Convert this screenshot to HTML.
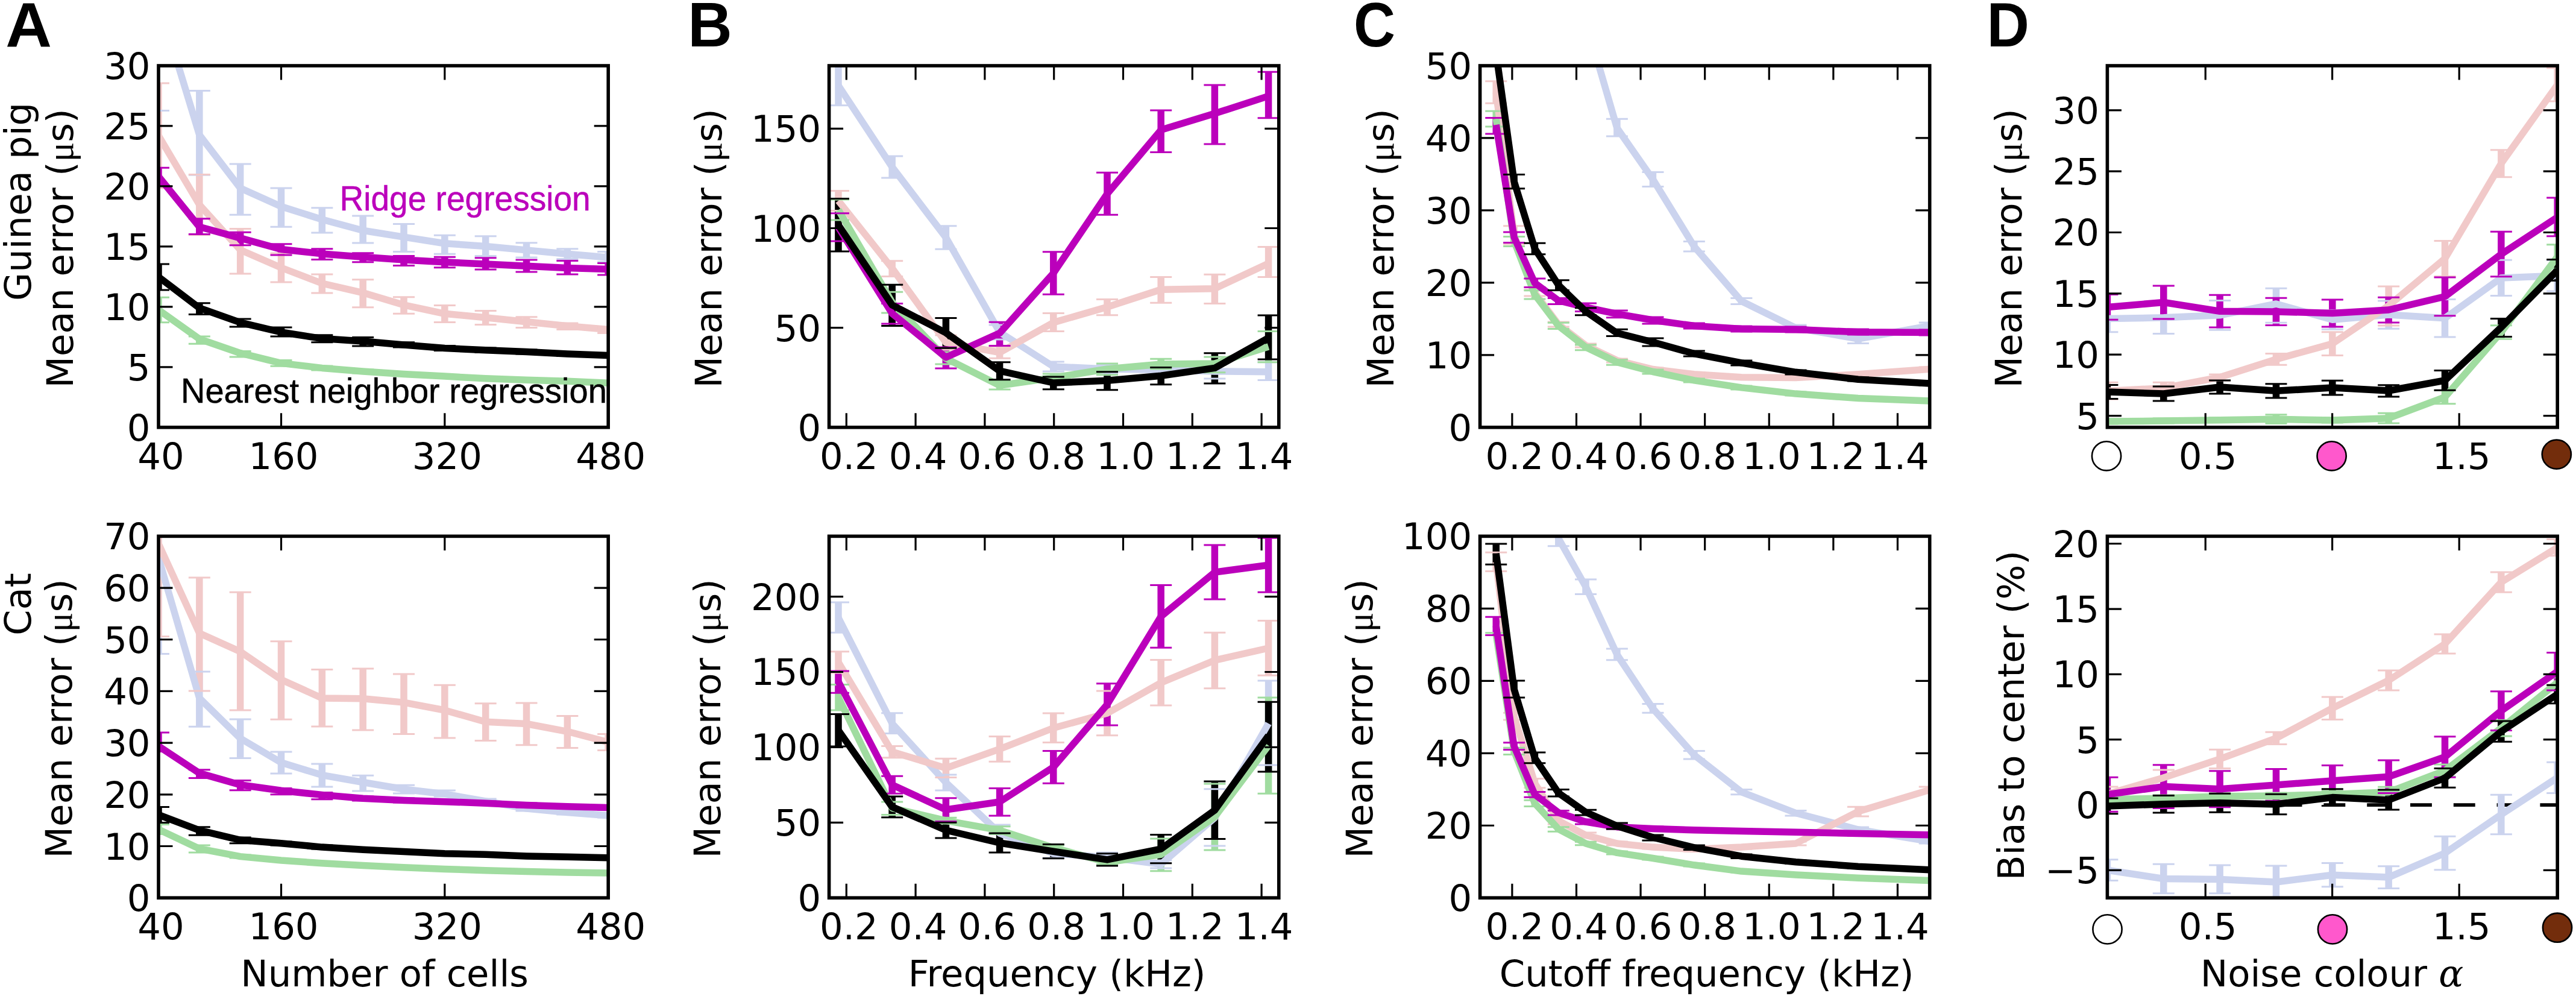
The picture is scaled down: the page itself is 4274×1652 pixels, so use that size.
<!DOCTYPE html><html><head><meta charset="utf-8"><title>Figure</title><style>html,body{margin:0;padding:0;background:#fff;}svg{display:block;}</style></head><body><svg width="4274" height="1652" viewBox="0 0 4274 1652">
<rect width="4274" height="1652" fill="#fff"/>
<clipPath id="cp00"><rect x="263" y="109" width="746.2" height="599.8"/></clipPath>
<clipPath id="cp01"><rect x="1375.6" y="109" width="746.2" height="599.8"/></clipPath>
<clipPath id="cp02"><rect x="2455.6" y="109" width="746.1" height="599.8"/></clipPath>
<clipPath id="cp03"><rect x="3496.4" y="109" width="746.8" height="599.8"/></clipPath>
<clipPath id="cp10"><rect x="263" y="889.4" width="746.2" height="599.8"/></clipPath>
<clipPath id="cp11"><rect x="1375.6" y="889.4" width="746.2" height="599.8"/></clipPath>
<clipPath id="cp12"><rect x="2455.6" y="889.4" width="746.1" height="599.8"/></clipPath>
<clipPath id="cp13"><rect x="3496.4" y="889.4" width="746.8" height="599.8"/></clipPath>
<g clip-path="url(#cp00)">
<path d="M330.84 150.4V290.2M398.67 271.9V356.3M466.51 312V376.3M534.35 344.8V385.9M602.18 358.1V403M670.02 371.6V417.5M737.85 390.2V421.3M805.69 391.8V424.6M873.53 402.7V427.1M941.36 412.7V429.4M1009.2 417.5V434.2" stroke="#cbd3ee" stroke-width="11.5" fill="none"/>
<path d="M263 137.9V312M330.84 289.5V389.7M398.67 379.5V454M466.51 420V468M534.35 455V486M602.18 463.7V509.7M670.02 492.7V520.3M737.85 506.5V534.4M805.69 515.5V538.6M873.53 525.7V543.4M941.36 536V546.6M1009.2 542.8V552.4" stroke="#f1c9c9" stroke-width="11.5" fill="none"/>
<path d="M263 493.2V534.8M330.84 558V570.3M398.67 582.5V592.1M466.51 597.6V607.2M534.35 607V614M602.18 613V619M670.02 618V623M737.85 622V626.5M805.69 626V630M873.53 628.5V632M941.36 630.5V634M1009.2 633.5V637" stroke="#a0dca0" stroke-width="11.5" fill="none"/>
<path d="M263 278.3V307.1M330.84 362.8V388.5M398.67 385.3V406.8M466.51 404.8V423.1M534.35 412.8V430.5M602.18 419.7V434.8M670.02 424.6V440.6M737.85 426.2V443.8M805.69 427.8V447M873.53 431V450.9M941.36 432.6V455.1M1009.2 436.4V456" stroke="#bb00bb" stroke-width="11.5" fill="none"/>
<path d="M263 438V481M330.84 502.8V521.4M398.67 529.1V542M466.51 543V558M534.35 555.8V567.7M602.18 559.5V573.9M670.02 567.7V576M737.85 573.5V581.5M805.69 577V584.5M873.53 580V587M941.36 583.5V590.5M1009.2 586.5V592.5" stroke="#000000" stroke-width="11.5" fill="none"/>
<polyline points="263,1 330.84,223.7 398.67,312 466.51,342.5 534.35,364 602.18,382.2 670.02,393.1 737.85,403.7 805.69,408.5 873.53,414.9 941.36,421.3 1009.2,427.1" stroke="#cbd3ee" stroke-width="11.5" fill="none" stroke-linejoin="round" stroke-linecap="butt"/>
<path d="M245 183.5h36M312.84 150.4h36M312.84 290.2h36M380.67 271.9h36M380.67 356.3h36M448.51 312h36M448.51 376.3h36M516.35 344.8h36M516.35 385.9h36M584.18 358.1h36M584.18 403h36M652.02 371.6h36M652.02 417.5h36M719.85 390.2h36M719.85 421.3h36M787.69 391.8h36M787.69 424.6h36M855.53 402.7h36M855.53 427.1h36M923.36 412.7h36M923.36 429.4h36M991.2 417.5h36M991.2 434.2h36" stroke="#cbd3ee" stroke-width="3.0" fill="none"/>
<polyline points="263,225 330.84,339.6 398.67,414.5 466.51,444 534.35,470 602.18,485.6 670.02,505.8 737.85,520.3 805.69,526.7 873.53,533.8 941.36,540.8 1009.2,546.6" stroke="#f1c9c9" stroke-width="11.5" fill="none" stroke-linejoin="round" stroke-linecap="butt"/>
<path d="M245 137.9h36M245 312h36M312.84 289.5h36M312.84 389.7h36M380.67 379.5h36M380.67 454h36M448.51 420h36M448.51 468h36M516.35 455h36M516.35 486h36M584.18 463.7h36M584.18 509.7h36M652.02 492.7h36M652.02 520.3h36M719.85 506.5h36M719.85 534.4h36M787.69 515.5h36M787.69 538.6h36M855.53 525.7h36M855.53 543.4h36M923.36 536h36M923.36 546.6h36M991.2 542.8h36M991.2 552.4h36" stroke="#f1c9c9" stroke-width="3.0" fill="none"/>
<polyline points="263,514 330.84,562.2 398.67,585.7 466.51,602.4 534.35,610.4 602.18,615.9 670.02,620.5 737.85,624.1 805.69,627.8 873.53,630.3 941.36,632.2 1009.2,635.3" stroke="#a0dca0" stroke-width="11.5" fill="none" stroke-linejoin="round" stroke-linecap="butt"/>
<path d="M245 493.2h36M245 534.8h36M312.84 558h36M312.84 570.3h36M380.67 582.5h36M380.67 592.1h36M448.51 597.6h36M448.51 607.2h36M516.35 607h36M516.35 614h36M584.18 613h36M584.18 619h36M652.02 618h36M652.02 623h36M719.85 622h36M719.85 626.5h36M787.69 626h36M787.69 630h36M855.53 628.5h36M855.53 632h36M923.36 630.5h36M923.36 634h36M991.2 633.5h36M991.2 637h36" stroke="#a0dca0" stroke-width="3.0" fill="none"/>
<polyline points="263,292.7 330.84,376.3 398.67,394.9 466.51,413.5 534.35,420.9 602.18,426.2 670.02,431 737.85,434.8 805.69,438 873.53,441.3 941.36,444.5 1009.2,446.4" stroke="#bb00bb" stroke-width="11.5" fill="none" stroke-linejoin="round" stroke-linecap="butt"/>
<path d="M245 278.3h36M245 307.1h36M312.84 362.8h36M312.84 388.5h36M380.67 385.3h36M380.67 406.8h36M448.51 404.8h36M448.51 423.1h36M516.35 412.8h36M516.35 430.5h36M584.18 419.7h36M584.18 434.8h36M652.02 424.6h36M652.02 440.6h36M719.85 426.2h36M719.85 443.8h36M787.69 427.8h36M787.69 447h36M855.53 431h36M855.53 450.9h36M923.36 432.6h36M923.36 455.1h36M991.2 436.4h36M991.2 456h36" stroke="#bb00bb" stroke-width="3.0" fill="none"/>
<polyline points="263,459.4 330.84,510.8 398.67,534.9 466.51,551 534.35,561.6 602.18,566 670.02,571.9 737.85,577.5 805.69,580.7 873.53,583.6 941.36,587 1009.2,589.5" stroke="#000000" stroke-width="11.5" fill="none" stroke-linejoin="round" stroke-linecap="butt"/>
<path d="M245 438h36M245 481h36M312.84 502.8h36M312.84 521.4h36M380.67 529.1h36M380.67 542h36M448.51 543h36M448.51 558h36M516.35 555.8h36M516.35 567.7h36M584.18 559.5h36M584.18 573.9h36M652.02 567.7h36M652.02 576h36M719.85 573.5h36M719.85 581.5h36M787.69 577h36M787.69 584.5h36M855.53 580h36M855.53 587h36M923.36 583.5h36M923.36 590.5h36M991.2 586.5h36M991.2 592.5h36" stroke="#000000" stroke-width="3.0" fill="none"/>
</g>
<path d="M263 708.8v-23.5M263 109v23.5M466.51 708.8v-23.5M466.51 109v23.5M737.85 708.8v-23.5M737.85 109v23.5M1009.2 708.8v-23.5M1009.2 109v23.5M263 708.8h23.5M1009.2 708.8h-23.5M263 608.83h23.5M1009.2 608.83h-23.5M263 508.87h23.5M1009.2 508.87h-23.5M263 408.9h23.5M1009.2 408.9h-23.5M263 308.93h23.5M1009.2 308.93h-23.5M263 208.97h23.5M1009.2 208.97h-23.5M263 109h23.5M1009.2 109h-23.5" stroke="#000" stroke-width="3.2" fill="none"/>
<rect x="263" y="109" width="746.2" height="599.8" stroke="#000" stroke-width="5.6" fill="none"/>
<text x="267" y="777.6" font-size="60.8" text-anchor="middle" fill="#000" font-family="'DejaVu Sans', 'Liberation Sans', sans-serif" font-weight="normal">40</text>
<text x="470.51" y="777.6" font-size="60.8" text-anchor="middle" fill="#000" font-family="'DejaVu Sans', 'Liberation Sans', sans-serif" font-weight="normal">160</text>
<text x="741.85" y="777.6" font-size="60.8" text-anchor="middle" fill="#000" font-family="'DejaVu Sans', 'Liberation Sans', sans-serif" font-weight="normal">320</text>
<text x="1013.2" y="777.6" font-size="60.8" text-anchor="middle" fill="#000" font-family="'DejaVu Sans', 'Liberation Sans', sans-serif" font-weight="normal">480</text>
<text x="249.5" y="730.8" font-size="60.8" text-anchor="end" fill="#000" font-family="'DejaVu Sans', 'Liberation Sans', sans-serif" font-weight="normal">0</text>
<text x="249.5" y="630.83" font-size="60.8" text-anchor="end" fill="#000" font-family="'DejaVu Sans', 'Liberation Sans', sans-serif" font-weight="normal">5</text>
<text x="249.5" y="530.87" font-size="60.8" text-anchor="end" fill="#000" font-family="'DejaVu Sans', 'Liberation Sans', sans-serif" font-weight="normal">10</text>
<text x="249.5" y="430.9" font-size="60.8" text-anchor="end" fill="#000" font-family="'DejaVu Sans', 'Liberation Sans', sans-serif" font-weight="normal">15</text>
<text x="249.5" y="330.93" font-size="60.8" text-anchor="end" fill="#000" font-family="'DejaVu Sans', 'Liberation Sans', sans-serif" font-weight="normal">20</text>
<text x="249.5" y="230.97" font-size="60.8" text-anchor="end" fill="#000" font-family="'DejaVu Sans', 'Liberation Sans', sans-serif" font-weight="normal">25</text>
<text x="249.5" y="131" font-size="60.8" text-anchor="end" fill="#000" font-family="'DejaVu Sans', 'Liberation Sans', sans-serif" font-weight="normal">30</text>
<g clip-path="url(#cp01)">
<path d="M1391 108.8V174.8M1480.2 259V295M1569.4 374.7V413.2M1658.6 539V563M1747.8 600V616M1837 605V619M1926.2 607V620M2015.4 605V628.1M2104.6 600.8V630.6" stroke="#cbd3ee" stroke-width="11.5" fill="none"/>
<path d="M1391 316.6V349.4M1480.2 432.8V458.5M1569.4 556V580M1658.6 575.1V594.3M1747.8 519.5V549.4M1837 496.4V522.7M1926.2 459.4V502.2M2015.4 455.3V503.4M2104.6 409.6V459.4" stroke="#f1c9c9" stroke-width="11.5" fill="none"/>
<path d="M1391 331V365M1480.2 484.2V518.9M1569.4 584V604M1658.6 632V646M1747.8 620V633M1837 603V621.7M1926.2 595.3V612M2015.4 592.1V617.8M2104.6 549.4V600.8" stroke="#a0dca0" stroke-width="11.5" fill="none"/>
<path d="M1391 353.7V400.1M1480.2 503.4V537M1569.4 576V611M1658.6 534.3V573.5M1747.8 417.7V488.3M1837 286.3V356.3M1926.2 182.9V252.6M2015.4 141.1V239.1M2104.6 119.3V195.7" stroke="#bb00bb" stroke-width="11.5" fill="none"/>
<path d="M1391 329.4V417.1M1480.2 472.3V540.4M1569.4 527.5V577.3M1658.6 600.8V629.7M1747.8 624.9V645.7M1837 616.8V646.7M1926.2 609.4V637.7M2015.4 585.7V636.1M2104.6 523V596" stroke="#000000" stroke-width="11.5" fill="none"/>
<polyline points="1391,141.8 1480.2,277 1569.4,393.9 1658.6,551 1747.8,608 1837,612 1926.2,613.6 2015.4,615.9 2104.6,616.8" stroke="#cbd3ee" stroke-width="11.5" fill="none" stroke-linejoin="round" stroke-linecap="butt"/>
<path d="M1373 108.8h36M1373 174.8h36M1462.2 259h36M1462.2 295h36M1551.4 374.7h36M1551.4 413.2h36M1640.6 539h36M1640.6 563h36M1729.8 600h36M1729.8 616h36M1819 605h36M1819 619h36M1908.2 607h36M1908.2 620h36M1997.4 605h36M1997.4 628.1h36M2086.6 600.8h36M2086.6 630.6h36" stroke="#cbd3ee" stroke-width="3.0" fill="none"/>
<polyline points="1391,333 1480.2,445 1569.4,568 1658.6,584.7 1747.8,534.9 1837,509.2 1926.2,480.3 2015.4,478.7 2104.6,436.9" stroke="#f1c9c9" stroke-width="11.5" fill="none" stroke-linejoin="round" stroke-linecap="butt"/>
<path d="M1373 316.6h36M1373 349.4h36M1462.2 432.8h36M1462.2 458.5h36M1551.4 556h36M1551.4 580h36M1640.6 575.1h36M1640.6 594.3h36M1729.8 519.5h36M1729.8 549.4h36M1819 496.4h36M1819 522.7h36M1908.2 459.4h36M1908.2 502.2h36M1997.4 455.3h36M1997.4 503.4h36M2086.6 409.6h36M2086.6 459.4h36" stroke="#f1c9c9" stroke-width="3.0" fill="none"/>
<polyline points="1391,348 1480.2,501.5 1569.4,594.3 1658.6,639.3 1747.8,626.5 1837,612 1926.2,604 2015.4,603 2104.6,575.1" stroke="#a0dca0" stroke-width="11.5" fill="none" stroke-linejoin="round" stroke-linecap="butt"/>
<path d="M1373 331h36M1373 365h36M1462.2 484.2h36M1462.2 518.9h36M1551.4 584h36M1551.4 604h36M1640.6 632h36M1640.6 646h36M1729.8 620h36M1729.8 633h36M1819 603h36M1819 621.7h36M1908.2 595.3h36M1908.2 612h36M1997.4 592.1h36M1997.4 617.8h36M2086.6 549.4h36M2086.6 600.8h36" stroke="#a0dca0" stroke-width="3.0" fill="none"/>
<polyline points="1391,376.9 1480.2,520 1569.4,592.7 1658.6,552.6 1747.8,453 1837,321.6 1926.2,215.6 2015.4,188.3 2104.6,159.4" stroke="#bb00bb" stroke-width="11.5" fill="none" stroke-linejoin="round" stroke-linecap="butt"/>
<path d="M1373 353.7h36M1373 400.1h36M1462.2 503.4h36M1462.2 537h36M1551.4 576h36M1551.4 611h36M1640.6 534.3h36M1640.6 573.5h36M1729.8 417.7h36M1729.8 488.3h36M1819 286.3h36M1819 356.3h36M1908.2 182.9h36M1908.2 252.6h36M1997.4 141.1h36M1997.4 239.1h36M2086.6 119.3h36M2086.6 195.7h36" stroke="#bb00bb" stroke-width="3.0" fill="none"/>
<polyline points="1391,373.3 1480.2,506 1569.4,552 1658.6,615.2 1747.8,635 1837,631.3 1926.2,623.3 2015.4,610.4 2104.6,560.6" stroke="#000000" stroke-width="11.5" fill="none" stroke-linejoin="round" stroke-linecap="butt"/>
<path d="M1373 329.4h36M1373 417.1h36M1462.2 472.3h36M1462.2 540.4h36M1551.4 527.5h36M1551.4 577.3h36M1640.6 600.8h36M1640.6 629.7h36M1729.8 624.9h36M1729.8 645.7h36M1819 616.8h36M1819 646.7h36M1908.2 609.4h36M1908.2 637.7h36M1997.4 585.7h36M1997.4 636.1h36M2086.6 523h36M2086.6 596h36" stroke="#000000" stroke-width="3.0" fill="none"/>
</g>
<path d="M1404.3 708.8v-23.5M1404.3 109v23.5M1519.1 708.8v-23.5M1519.1 109v23.5M1633.9 708.8v-23.5M1633.9 109v23.5M1748.7 708.8v-23.5M1748.7 109v23.5M1863.5 708.8v-23.5M1863.5 109v23.5M1978.3 708.8v-23.5M1978.3 109v23.5M2093.1 708.8v-23.5M2093.1 109v23.5M1375.6 708.8h23.5M2121.8 708.8h-23.5M1375.6 543.66h23.5M2121.8 543.66h-23.5M1375.6 378.51h23.5M2121.8 378.51h-23.5M1375.6 213.37h23.5M2121.8 213.37h-23.5" stroke="#000" stroke-width="3.2" fill="none"/>
<rect x="1375.6" y="109" width="746.2" height="599.8" stroke="#000" stroke-width="5.6" fill="none"/>
<text x="1408.3" y="777.6" font-size="60.8" text-anchor="middle" fill="#000" font-family="'DejaVu Sans', 'Liberation Sans', sans-serif" font-weight="normal">0.2</text>
<text x="1523.1" y="777.6" font-size="60.8" text-anchor="middle" fill="#000" font-family="'DejaVu Sans', 'Liberation Sans', sans-serif" font-weight="normal">0.4</text>
<text x="1637.9" y="777.6" font-size="60.8" text-anchor="middle" fill="#000" font-family="'DejaVu Sans', 'Liberation Sans', sans-serif" font-weight="normal">0.6</text>
<text x="1752.7" y="777.6" font-size="60.8" text-anchor="middle" fill="#000" font-family="'DejaVu Sans', 'Liberation Sans', sans-serif" font-weight="normal">0.8</text>
<text x="1867.5" y="777.6" font-size="60.8" text-anchor="middle" fill="#000" font-family="'DejaVu Sans', 'Liberation Sans', sans-serif" font-weight="normal">1.0</text>
<text x="1982.3" y="777.6" font-size="60.8" text-anchor="middle" fill="#000" font-family="'DejaVu Sans', 'Liberation Sans', sans-serif" font-weight="normal">1.2</text>
<text x="2097.1" y="777.6" font-size="60.8" text-anchor="middle" fill="#000" font-family="'DejaVu Sans', 'Liberation Sans', sans-serif" font-weight="normal">1.4</text>
<text x="1362.1" y="730.8" font-size="60.8" text-anchor="end" fill="#000" font-family="'DejaVu Sans', 'Liberation Sans', sans-serif" font-weight="normal">0</text>
<text x="1362.1" y="565.66" font-size="60.8" text-anchor="end" fill="#000" font-family="'DejaVu Sans', 'Liberation Sans', sans-serif" font-weight="normal">50</text>
<text x="1362.1" y="400.51" font-size="60.8" text-anchor="end" fill="#000" font-family="'DejaVu Sans', 'Liberation Sans', sans-serif" font-weight="normal">100</text>
<text x="1362.1" y="235.37" font-size="60.8" text-anchor="end" fill="#000" font-family="'DejaVu Sans', 'Liberation Sans', sans-serif" font-weight="normal">150</text>
<g clip-path="url(#cp02)">
<path d="M2682.89 197.3V225.9M2742.46 285.4V309.4M2810.84 400.5V417M2889.35 494.4V504.6M2979.47 539V549M3082.93 555V569.5M3201.7 535V546" stroke="#cbd3ee" stroke-width="11.5" fill="none"/>
<path d="M2482.25 134.7V171.3M2512.12 374.7V405M2546.42 480.7V491M2585.8 534V542M2631 570V576M2682.89 595V601M2742.46 610V615M2810.84 618V623M2889.35 623V628M2979.47 624V629M3082.93 618V623M3201.7 609V615" stroke="#f1c9c9" stroke-width="11.5" fill="none"/>
<path d="M2482.25 184.2V209.9M2512.12 392.4V408.5M2546.42 481.7V496.1M2585.8 535.3V545.6M2631 571.9V580.8M2682.89 596.8V605.3M2742.46 613V620M2810.84 628V634M2889.35 640V646M2979.47 650V656M3082.93 658V663M3201.7 662V668" stroke="#a0dca0" stroke-width="11.5" fill="none"/>
<path d="M2482.25 195.4V222.1M2512.12 385.1V402.5M2546.42 461.9V476.6M2585.8 494.4V504.6M2631 502.9V516.6M2682.89 514.9V526.8M2742.46 526.1V537M2810.84 536V545M2889.35 541V550M2979.47 542V551M3082.93 546V555M3201.7 547V556" stroke="#bb00bb" stroke-width="11.5" fill="none"/>
<path d="M2512.12 289.6V312.7M2546.42 403.2V421.7M2585.8 464.7V481.4M2631 510.8V522.7M2682.89 546.3V557.5M2742.46 561V573.9M2810.84 582V591M2889.35 598V606M2979.47 614V621M3082.93 626V632M3201.7 633V639" stroke="#000000" stroke-width="11.5" fill="none"/>
<polyline points="2585.8,-300 2631,34 2682.89,212.4 2742.46,297.6 2810.84,408.7 2889.35,499.5 2979.47,543.9 3082.93,562 3201.7,540.5" stroke="#cbd3ee" stroke-width="11.5" fill="none" stroke-linejoin="round" stroke-linecap="butt"/>
<path d="M2664.89 197.3h36M2664.89 225.9h36M2724.46 285.4h36M2724.46 309.4h36M2792.84 400.5h36M2792.84 417h36M2871.35 494.4h36M2871.35 504.6h36M2961.47 539h36M2961.47 549h36M3064.93 555h36M3064.93 569.5h36M3183.7 535h36M3183.7 546h36" stroke="#cbd3ee" stroke-width="3.0" fill="none"/>
<polyline points="2482.25,153 2512.12,390 2546.42,485.8 2585.8,538.1 2631,572.9 2682.89,597.8 2742.46,612.5 2810.84,620.7 2889.35,625.8 2979.47,626.5 3082.93,620.7 3201.7,612.2" stroke="#f1c9c9" stroke-width="11.5" fill="none" stroke-linejoin="round" stroke-linecap="butt"/>
<path d="M2464.25 134.7h36M2464.25 171.3h36M2494.12 374.7h36M2494.12 405h36M2528.42 480.7h36M2528.42 491h36M2567.8 534h36M2567.8 542h36M2613 570h36M2613 576h36M2664.89 595h36M2664.89 601h36M2724.46 610h36M2724.46 615h36M2792.84 618h36M2792.84 623h36M2871.35 623h36M2871.35 628h36M2961.47 624h36M2961.47 629h36M3064.93 618h36M3064.93 623h36M3183.7 609h36M3183.7 615h36" stroke="#f1c9c9" stroke-width="3.0" fill="none"/>
<polyline points="2482.25,197 2512.12,400 2546.42,488.6 2585.8,540.5 2631,575.8 2682.89,600.8 2742.46,616.5 2810.84,630.9 2889.35,642.9 2979.47,653.1 3082.93,660.6 3201.7,665.1" stroke="#a0dca0" stroke-width="11.5" fill="none" stroke-linejoin="round" stroke-linecap="butt"/>
<path d="M2464.25 184.2h36M2464.25 209.9h36M2494.12 392.4h36M2494.12 408.5h36M2528.42 481.7h36M2528.42 496.1h36M2567.8 535.3h36M2567.8 545.6h36M2613 571.9h36M2613 580.8h36M2664.89 596.8h36M2664.89 605.3h36M2724.46 613h36M2724.46 620h36M2792.84 628h36M2792.84 634h36M2871.35 640h36M2871.35 646h36M2961.47 650h36M2961.47 656h36M3064.93 658h36M3064.93 663h36M3183.7 662h36M3183.7 668h36" stroke="#a0dca0" stroke-width="3.0" fill="none"/>
<polyline points="2482.25,207 2512.12,393.5 2546.42,469.4 2585.8,498.5 2631,509.7 2682.89,520.7 2742.46,531 2810.84,540.5 2889.35,545.6 2979.47,546.6 3082.93,550.7 3201.7,551.4" stroke="#bb00bb" stroke-width="11.5" fill="none" stroke-linejoin="round" stroke-linecap="butt"/>
<path d="M2464.25 195.4h36M2464.25 222.1h36M2494.12 385.1h36M2494.12 402.5h36M2528.42 461.9h36M2528.42 476.6h36M2567.8 494.4h36M2567.8 504.6h36M2613 502.9h36M2613 516.6h36M2664.89 514.9h36M2664.89 526.8h36M2724.46 526.1h36M2724.46 537h36M2792.84 536h36M2792.84 545h36M2871.35 541h36M2871.35 550h36M2961.47 542h36M2961.47 551h36M3064.93 546h36M3064.93 555h36M3183.7 547h36M3183.7 556h36" stroke="#bb00bb" stroke-width="3.0" fill="none"/>
<polyline points="2482.25,88 2512.12,301 2546.42,412.4 2585.8,472.9 2631,516.6 2682.89,552.4 2742.46,567.5 2810.84,586.6 2889.35,601.9 2979.47,617.3 3082.93,629.2 3201.7,636.1" stroke="#000000" stroke-width="11.5" fill="none" stroke-linejoin="round" stroke-linecap="butt"/>
<path d="M2494.12 289.6h36M2494.12 312.7h36M2528.42 403.2h36M2528.42 421.7h36M2567.8 464.7h36M2567.8 481.4h36M2613 510.8h36M2613 522.7h36M2664.89 546.3h36M2664.89 557.5h36M2724.46 561h36M2724.46 573.9h36M2792.84 582h36M2792.84 591h36M2871.35 598h36M2871.35 606h36M2961.47 614h36M2961.47 621h36M3064.93 626h36M3064.93 632h36M3183.7 633h36M3183.7 639h36" stroke="#000000" stroke-width="3.0" fill="none"/>
</g>
<path d="M2508.89 708.8v-23.5M2508.89 109v23.5M2615.48 708.8v-23.5M2615.48 109v23.5M2722.06 708.8v-23.5M2722.06 109v23.5M2828.65 708.8v-23.5M2828.65 109v23.5M2935.24 708.8v-23.5M2935.24 109v23.5M3041.82 708.8v-23.5M3041.82 109v23.5M3148.41 708.8v-23.5M3148.41 109v23.5M2455.6 708.8h23.5M3201.7 708.8h-23.5M2455.6 588.84h23.5M3201.7 588.84h-23.5M2455.6 468.88h23.5M3201.7 468.88h-23.5M2455.6 348.92h23.5M3201.7 348.92h-23.5M2455.6 228.96h23.5M3201.7 228.96h-23.5M2455.6 109h23.5M3201.7 109h-23.5" stroke="#000" stroke-width="3.2" fill="none"/>
<rect x="2455.6" y="109" width="746.1" height="599.8" stroke="#000" stroke-width="5.6" fill="none"/>
<text x="2512.89" y="777.6" font-size="60.8" text-anchor="middle" fill="#000" font-family="'DejaVu Sans', 'Liberation Sans', sans-serif" font-weight="normal">0.2</text>
<text x="2619.48" y="777.6" font-size="60.8" text-anchor="middle" fill="#000" font-family="'DejaVu Sans', 'Liberation Sans', sans-serif" font-weight="normal">0.4</text>
<text x="2726.06" y="777.6" font-size="60.8" text-anchor="middle" fill="#000" font-family="'DejaVu Sans', 'Liberation Sans', sans-serif" font-weight="normal">0.6</text>
<text x="2832.65" y="777.6" font-size="60.8" text-anchor="middle" fill="#000" font-family="'DejaVu Sans', 'Liberation Sans', sans-serif" font-weight="normal">0.8</text>
<text x="2939.24" y="777.6" font-size="60.8" text-anchor="middle" fill="#000" font-family="'DejaVu Sans', 'Liberation Sans', sans-serif" font-weight="normal">1.0</text>
<text x="3045.82" y="777.6" font-size="60.8" text-anchor="middle" fill="#000" font-family="'DejaVu Sans', 'Liberation Sans', sans-serif" font-weight="normal">1.2</text>
<text x="3152.41" y="777.6" font-size="60.8" text-anchor="middle" fill="#000" font-family="'DejaVu Sans', 'Liberation Sans', sans-serif" font-weight="normal">1.4</text>
<text x="2442.1" y="730.8" font-size="60.8" text-anchor="end" fill="#000" font-family="'DejaVu Sans', 'Liberation Sans', sans-serif" font-weight="normal">0</text>
<text x="2442.1" y="610.84" font-size="60.8" text-anchor="end" fill="#000" font-family="'DejaVu Sans', 'Liberation Sans', sans-serif" font-weight="normal">10</text>
<text x="2442.1" y="490.88" font-size="60.8" text-anchor="end" fill="#000" font-family="'DejaVu Sans', 'Liberation Sans', sans-serif" font-weight="normal">20</text>
<text x="2442.1" y="370.92" font-size="60.8" text-anchor="end" fill="#000" font-family="'DejaVu Sans', 'Liberation Sans', sans-serif" font-weight="normal">30</text>
<text x="2442.1" y="250.96" font-size="60.8" text-anchor="end" fill="#000" font-family="'DejaVu Sans', 'Liberation Sans', sans-serif" font-weight="normal">40</text>
<text x="2442.1" y="131" font-size="60.8" text-anchor="end" fill="#000" font-family="'DejaVu Sans', 'Liberation Sans', sans-serif" font-weight="normal">50</text>
<g clip-path="url(#cp03)">
<path d="M3496.4 506V550.7M3589.75 500V553.4M3683.1 498.4V547.2M3776.45 478.3V535.3M3869.8 514.8V546.2M3963.15 499V545.2M4056.5 496.4V559M4149.85 431.2V490.6M4243.2 431.5V482.9" stroke="#cbd3ee" stroke-width="11.5" fill="none"/>
<path d="M3496.4 634.3V662.6M3589.75 634.3V653M3683.1 621V630.9M3776.45 586.5V605.3M3869.8 550.7V589.5M3963.15 475V540M4056.5 399.4V458.4M4149.85 248.7V293.7M4243.2 112.8V168.1" stroke="#f1c9c9" stroke-width="11.5" fill="none"/>
<path d="M3496.4 695V703M3589.75 694V702M3683.1 693V700.5M3776.45 687.8V702.5M3869.8 693V701M3963.15 685.3V702M4056.5 647.4V669.8M4149.85 539.8V562.2M4243.2 405.8V445.6" stroke="#a0dca0" stroke-width="11.5" fill="none"/>
<path d="M3496.4 488.5V530.2M3589.75 473.9V529.1M3683.1 489.2V543.1M3776.45 494.3V539.4M3869.8 497.1V542.1M3963.15 493.2V534.9M4056.5 460.1V523.7M4149.85 384.3V458.8M4243.2 328.1V391.7" stroke="#bb00bb" stroke-width="11.5" fill="none"/>
<path d="M3496.4 638.4V661.6M3589.75 641.1V665M3683.1 630.9V653M3776.45 636.7V659.9M3869.8 631.3V655M3963.15 638.7V658M4056.5 614.6V647.3M4149.85 528.5V558.4M4243.2 430.5V465.5" stroke="#000000" stroke-width="11.5" fill="none"/>
<polyline points="3496.4,528.5 3589.75,526.8 3683.1,522.8 3776.45,504 3869.8,530.2 3963.15,522.1 4056.5,527.7 4149.85,460.9 4243.2,457.2" stroke="#cbd3ee" stroke-width="11.5" fill="none" stroke-linejoin="round" stroke-linecap="butt"/>
<path d="M3478.4 506h36M3478.4 550.7h36M3571.75 500h36M3571.75 553.4h36M3665.1 498.4h36M3665.1 547.2h36M3758.45 478.3h36M3758.45 535.3h36M3851.8 514.8h36M3851.8 546.2h36M3945.15 499h36M3945.15 545.2h36M4038.5 496.4h36M4038.5 559h36M4131.85 431.2h36M4131.85 490.6h36M4225.2 431.5h36M4225.2 482.9h36" stroke="#cbd3ee" stroke-width="3.0" fill="none"/>
<polyline points="3496.4,648.5 3589.75,643.7 3683.1,625.7 3776.45,595.9 3869.8,570.1 3963.15,507 4056.5,428.9 4149.85,271.2 4243.2,140.5" stroke="#f1c9c9" stroke-width="11.5" fill="none" stroke-linejoin="round" stroke-linecap="butt"/>
<path d="M3478.4 634.3h36M3478.4 662.6h36M3571.75 634.3h36M3571.75 653h36M3665.1 621h36M3665.1 630.9h36M3758.45 586.5h36M3758.45 605.3h36M3851.8 550.7h36M3851.8 589.5h36M3945.15 475h36M3945.15 540h36M4038.5 399.4h36M4038.5 458.4h36M4131.85 248.7h36M4131.85 293.7h36M4225.2 112.8h36M4225.2 168.1h36" stroke="#f1c9c9" stroke-width="3.0" fill="none"/>
<polyline points="3496.4,699.1 3589.75,698.1 3683.1,696.7 3776.45,695.2 3869.8,697.1 3963.15,693.7 4056.5,658.6 4149.85,551 4243.2,425.7" stroke="#a0dca0" stroke-width="11.5" fill="none" stroke-linejoin="round" stroke-linecap="butt"/>
<path d="M3478.4 695h36M3478.4 703h36M3571.75 694h36M3571.75 702h36M3665.1 693h36M3665.1 700.5h36M3758.45 687.8h36M3758.45 702.5h36M3851.8 693h36M3851.8 701h36M3945.15 685.3h36M3945.15 702h36M4038.5 647.4h36M4038.5 669.8h36M4131.85 539.8h36M4131.85 562.2h36M4225.2 405.8h36M4225.2 445.6h36" stroke="#a0dca0" stroke-width="3.0" fill="none"/>
<polyline points="3496.4,509.4 3589.75,501.5 3683.1,516.2 3776.45,516.9 3869.8,519.6 3963.15,514 4056.5,491.9 4149.85,421.6 4243.2,360.2" stroke="#bb00bb" stroke-width="11.5" fill="none" stroke-linejoin="round" stroke-linecap="butt"/>
<path d="M3478.4 488.5h36M3478.4 530.2h36M3571.75 473.9h36M3571.75 529.1h36M3665.1 489.2h36M3665.1 543.1h36M3758.45 494.3h36M3758.45 539.4h36M3851.8 497.1h36M3851.8 542.1h36M3945.15 493.2h36M3945.15 534.9h36M4038.5 460.1h36M4038.5 523.7h36M4131.85 384.3h36M4131.85 458.8h36M4225.2 328.1h36M4225.2 391.7h36" stroke="#bb00bb" stroke-width="3.0" fill="none"/>
<polyline points="3496.4,650 3589.75,653 3683.1,642 3776.45,648.3 3869.8,643.1 3963.15,648 4056.5,631 4149.85,543 4243.2,448" stroke="#000000" stroke-width="11.5" fill="none" stroke-linejoin="round" stroke-linecap="butt"/>
<path d="M3478.4 638.4h36M3478.4 661.6h36M3571.75 641.1h36M3571.75 665h36M3665.1 630.9h36M3665.1 653h36M3758.45 636.7h36M3758.45 659.9h36M3851.8 631.3h36M3851.8 655h36M3945.15 638.7h36M3945.15 658h36M4038.5 614.6h36M4038.5 647.3h36M4131.85 528.5h36M4131.85 558.4h36M4225.2 430.5h36M4225.2 465.5h36" stroke="#000000" stroke-width="3.0" fill="none"/>
</g>
<path d="M3659.2 708.8v-23.5M3659.2 109v23.5M3869.6 708.8v-23.5M3869.6 109v23.5M4080.2 708.8v-23.5M4080.2 109v23.5M3496.4 689.54h23.5M4243.2 689.54h-23.5M3496.4 588.19h23.5M4243.2 588.19h-23.5M3496.4 486.84h23.5M4243.2 486.84h-23.5M3496.4 385.49h23.5M4243.2 385.49h-23.5M3496.4 284.14h23.5M4243.2 284.14h-23.5M3496.4 182.78h23.5M4243.2 182.78h-23.5" stroke="#000" stroke-width="3.2" fill="none"/>
<rect x="3496.4" y="109" width="746.8" height="599.8" stroke="#000" stroke-width="5.6" fill="none"/>
<text x="3663.2" y="777.6" font-size="60.8" text-anchor="middle" fill="#000" font-family="'DejaVu Sans', 'Liberation Sans', sans-serif" font-weight="normal">0.5</text>
<text x="4084.2" y="777.6" font-size="60.8" text-anchor="middle" fill="#000" font-family="'DejaVu Sans', 'Liberation Sans', sans-serif" font-weight="normal">1.5</text>
<text x="3482.9" y="711.54" font-size="60.8" text-anchor="end" fill="#000" font-family="'DejaVu Sans', 'Liberation Sans', sans-serif" font-weight="normal">5</text>
<text x="3482.9" y="610.19" font-size="60.8" text-anchor="end" fill="#000" font-family="'DejaVu Sans', 'Liberation Sans', sans-serif" font-weight="normal">10</text>
<text x="3482.9" y="508.84" font-size="60.8" text-anchor="end" fill="#000" font-family="'DejaVu Sans', 'Liberation Sans', sans-serif" font-weight="normal">15</text>
<text x="3482.9" y="407.49" font-size="60.8" text-anchor="end" fill="#000" font-family="'DejaVu Sans', 'Liberation Sans', sans-serif" font-weight="normal">20</text>
<text x="3482.9" y="306.14" font-size="60.8" text-anchor="end" fill="#000" font-family="'DejaVu Sans', 'Liberation Sans', sans-serif" font-weight="normal">25</text>
<text x="3482.9" y="204.78" font-size="60.8" text-anchor="end" fill="#000" font-family="'DejaVu Sans', 'Liberation Sans', sans-serif" font-weight="normal">30</text>
<g clip-path="url(#cp10)">
<path d="M263 765V1084.6M330.84 1113.9V1205.3M398.67 1193.1V1257.4M466.51 1247.1V1283.1M534.35 1267V1304.9M602.18 1286.3V1312M670.02 1302.3V1316M737.85 1311V1321M805.69 1325V1333M873.53 1337V1345M941.36 1344V1351M1009.2 1350V1356" stroke="#cbd3ee" stroke-width="11.5" fill="none"/>
<path d="M263 749V1055.7M330.84 958.1V1146M398.67 982.2V1178.1M466.51 1063.7V1193.2M534.35 1110.6V1205M602.18 1108.9V1211.1M670.02 1117.9V1217.5M737.85 1136.2V1223.9M805.69 1166.7V1228.4M873.53 1166.1V1235.8M941.36 1187.6V1240.6M1009.2 1217.5V1244.5" stroke="#f1c9c9" stroke-width="11.5" fill="none"/>
<path d="M263 1367.6V1383.6M330.84 1401.9V1414.1M398.67 1418V1423M466.51 1425V1429M534.35 1430V1434M602.18 1434V1437M670.02 1437V1440M737.85 1440V1443M805.69 1442V1445M873.53 1444V1447M941.36 1445.5V1448.5M1009.2 1446.5V1449.5" stroke="#a0dca0" stroke-width="11.5" fill="none"/>
<path d="M263 1215V1246.5M330.84 1276.7V1290.5M398.67 1294.6V1310.7M466.51 1307.5V1317.8M534.35 1314.6V1325.8M602.18 1321V1328M670.02 1324V1331M737.85 1326.5V1333M805.69 1329V1335.5M873.53 1332V1339M941.36 1334.5V1341M1009.2 1336.5V1343" stroke="#bb00bb" stroke-width="11.5" fill="none"/>
<path d="M263 1338.6V1364.4M330.84 1371.7V1385.2M398.67 1389.1V1398.7M466.51 1396V1402M534.35 1402V1408M602.18 1407V1412M670.02 1410V1415M737.85 1413.5V1418M805.69 1415V1419.5M873.53 1418V1422M941.36 1419V1423.5M1009.2 1421V1425" stroke="#000000" stroke-width="11.5" fill="none"/>
<polyline points="263,925 330.84,1157.9 398.67,1224.6 466.51,1264.8 534.35,1285.6 602.18,1297.5 670.02,1309 737.85,1317 805.69,1329 873.53,1341 941.36,1347.5 1009.2,1352.8" stroke="#cbd3ee" stroke-width="11.5" fill="none" stroke-linejoin="round" stroke-linecap="butt"/>
<path d="M245 765h36M245 1084.6h36M312.84 1113.9h36M312.84 1205.3h36M380.67 1193.1h36M380.67 1257.4h36M448.51 1247.1h36M448.51 1283.1h36M516.35 1267h36M516.35 1304.9h36M584.18 1286.3h36M584.18 1312h36M652.02 1302.3h36M652.02 1316h36M719.85 1311h36M719.85 1321h36M787.69 1325h36M787.69 1333h36M855.53 1337h36M855.53 1345h36M923.36 1344h36M923.36 1351h36M991.2 1350h36M991.2 1356h36" stroke="#cbd3ee" stroke-width="3.0" fill="none"/>
<polyline points="263,902 330.84,1050.3 398.67,1080.8 466.51,1127.3 534.35,1157.9 602.18,1158.7 670.02,1165.1 737.85,1178 805.69,1197.2 873.53,1200.5 941.36,1213.3 1009.2,1231" stroke="#f1c9c9" stroke-width="11.5" fill="none" stroke-linejoin="round" stroke-linecap="butt"/>
<path d="M245 749h36M245 1055.7h36M312.84 958.1h36M312.84 1146h36M380.67 982.2h36M380.67 1178.1h36M448.51 1063.7h36M448.51 1193.2h36M516.35 1110.6h36M516.35 1205h36M584.18 1108.9h36M584.18 1211.1h36M652.02 1117.9h36M652.02 1217.5h36M719.85 1136.2h36M719.85 1223.9h36M787.69 1166.7h36M787.69 1228.4h36M855.53 1166.1h36M855.53 1235.8h36M923.36 1187.6h36M923.36 1240.6h36M991.2 1217.5h36M991.2 1244.5h36" stroke="#f1c9c9" stroke-width="3.0" fill="none"/>
<polyline points="263,1375.6 330.84,1407.7 398.67,1420.6 466.51,1427 534.35,1431.8 602.18,1435.5 670.02,1438.7 737.85,1441.4 805.69,1443.7 873.53,1445.6 941.36,1446.9 1009.2,1447.9" stroke="#a0dca0" stroke-width="11.5" fill="none" stroke-linejoin="round" stroke-linecap="butt"/>
<path d="M245 1367.6h36M245 1383.6h36M312.84 1401.9h36M312.84 1414.1h36M380.67 1418h36M380.67 1423h36M448.51 1425h36M448.51 1429h36M516.35 1430h36M516.35 1434h36M584.18 1434h36M584.18 1437h36M652.02 1437h36M652.02 1440h36M719.85 1440h36M719.85 1443h36M787.69 1442h36M787.69 1445h36M855.53 1444h36M855.53 1447h36M923.36 1445.5h36M923.36 1448.5h36M991.2 1446.5h36M991.2 1449.5h36" stroke="#a0dca0" stroke-width="3.0" fill="none"/>
<polyline points="263,1237.5 330.84,1282.4 398.67,1301.7 466.51,1311.3 534.35,1318.4 602.18,1324.2 670.02,1327.4 737.85,1329.7 805.69,1332.2 873.53,1335.4 941.36,1337.7 1009.2,1339.6" stroke="#bb00bb" stroke-width="11.5" fill="none" stroke-linejoin="round" stroke-linecap="butt"/>
<path d="M245 1215h36M245 1246.5h36M312.84 1276.7h36M312.84 1290.5h36M380.67 1294.6h36M380.67 1310.7h36M448.51 1307.5h36M448.51 1317.8h36M516.35 1314.6h36M516.35 1325.8h36M584.18 1321h36M584.18 1328h36M652.02 1324h36M652.02 1331h36M719.85 1326.5h36M719.85 1333h36M787.69 1329h36M787.69 1335.5h36M855.53 1332h36M855.53 1339h36M923.36 1334.5h36M923.36 1341h36M991.2 1336.5h36M991.2 1343h36" stroke="#bb00bb" stroke-width="3.0" fill="none"/>
<polyline points="263,1351.5 330.84,1377.2 398.67,1393.3 466.51,1398.7 534.35,1405.1 602.18,1409.3 670.02,1412.5 737.85,1415.7 805.69,1417.3 873.53,1419.9 941.36,1421.2 1009.2,1422.8" stroke="#000000" stroke-width="11.5" fill="none" stroke-linejoin="round" stroke-linecap="butt"/>
<path d="M245 1338.6h36M245 1364.4h36M312.84 1371.7h36M312.84 1385.2h36M380.67 1389.1h36M380.67 1398.7h36M448.51 1396h36M448.51 1402h36M516.35 1402h36M516.35 1408h36M584.18 1407h36M584.18 1412h36M652.02 1410h36M652.02 1415h36M719.85 1413.5h36M719.85 1418h36M787.69 1415h36M787.69 1419.5h36M855.53 1418h36M855.53 1422h36M923.36 1419h36M923.36 1423.5h36M991.2 1421h36M991.2 1425h36" stroke="#000000" stroke-width="3.0" fill="none"/>
</g>
<path d="M263 1489.2v-23.5M263 889.4v23.5M466.51 1489.2v-23.5M466.51 889.4v23.5M737.85 1489.2v-23.5M737.85 889.4v23.5M1009.2 1489.2v-23.5M1009.2 889.4v23.5M263 1489.2h23.5M1009.2 1489.2h-23.5M263 1403.51h23.5M1009.2 1403.51h-23.5M263 1317.83h23.5M1009.2 1317.83h-23.5M263 1232.14h23.5M1009.2 1232.14h-23.5M263 1146.46h23.5M1009.2 1146.46h-23.5M263 1060.77h23.5M1009.2 1060.77h-23.5M263 975.09h23.5M1009.2 975.09h-23.5M263 889.4h23.5M1009.2 889.4h-23.5" stroke="#000" stroke-width="3.2" fill="none"/>
<rect x="263" y="889.4" width="746.2" height="599.8" stroke="#000" stroke-width="5.6" fill="none"/>
<text x="267" y="1558" font-size="60.8" text-anchor="middle" fill="#000" font-family="'DejaVu Sans', 'Liberation Sans', sans-serif" font-weight="normal">40</text>
<text x="470.51" y="1558" font-size="60.8" text-anchor="middle" fill="#000" font-family="'DejaVu Sans', 'Liberation Sans', sans-serif" font-weight="normal">160</text>
<text x="741.85" y="1558" font-size="60.8" text-anchor="middle" fill="#000" font-family="'DejaVu Sans', 'Liberation Sans', sans-serif" font-weight="normal">320</text>
<text x="1013.2" y="1558" font-size="60.8" text-anchor="middle" fill="#000" font-family="'DejaVu Sans', 'Liberation Sans', sans-serif" font-weight="normal">480</text>
<text x="249.5" y="1511.2" font-size="60.8" text-anchor="end" fill="#000" font-family="'DejaVu Sans', 'Liberation Sans', sans-serif" font-weight="normal">0</text>
<text x="249.5" y="1425.51" font-size="60.8" text-anchor="end" fill="#000" font-family="'DejaVu Sans', 'Liberation Sans', sans-serif" font-weight="normal">10</text>
<text x="249.5" y="1339.83" font-size="60.8" text-anchor="end" fill="#000" font-family="'DejaVu Sans', 'Liberation Sans', sans-serif" font-weight="normal">20</text>
<text x="249.5" y="1254.14" font-size="60.8" text-anchor="end" fill="#000" font-family="'DejaVu Sans', 'Liberation Sans', sans-serif" font-weight="normal">30</text>
<text x="249.5" y="1168.46" font-size="60.8" text-anchor="end" fill="#000" font-family="'DejaVu Sans', 'Liberation Sans', sans-serif" font-weight="normal">40</text>
<text x="249.5" y="1082.77" font-size="60.8" text-anchor="end" fill="#000" font-family="'DejaVu Sans', 'Liberation Sans', sans-serif" font-weight="normal">50</text>
<text x="249.5" y="997.09" font-size="60.8" text-anchor="end" fill="#000" font-family="'DejaVu Sans', 'Liberation Sans', sans-serif" font-weight="normal">60</text>
<text x="249.5" y="911.4" font-size="60.8" text-anchor="end" fill="#000" font-family="'DejaVu Sans', 'Liberation Sans', sans-serif" font-weight="normal">70</text>
<g clip-path="url(#cp11)">
<path d="M1391 998.9V1049.3M1480.2 1182.8V1216.6M1569.4 1285V1311M1658.6 1368V1396M1747.8 1408V1423M1837 1414V1430M1926.2 1427V1440M2015.4 1308.8V1402.9M2104.6 1129V1269" stroke="#cbd3ee" stroke-width="11.5" fill="none"/>
<path d="M1391 1080.8V1116M1480.2 1237.5V1256.7M1569.4 1258.3V1289.5M1658.6 1221.4V1263.2M1747.8 1183V1231.5M1837 1146V1219.8M1926.2 1094.6V1170.1M2015.4 1049.3V1141.8M2104.6 1029.4V1120.3" stroke="#f1c9c9" stroke-width="11.5" fill="none"/>
<path d="M1391 1135.4V1178.1M1480.2 1330V1351.5M1569.4 1356.3V1366M1658.6 1370.8V1383.6M1747.8 1402V1410M1837 1426V1434M1926.2 1391V1444.7M2015.4 1300V1410M2104.6 1156.9V1316.2" stroke="#a0dca0" stroke-width="11.5" fill="none"/>
<path d="M1391 1112.9V1149.2M1480.2 1287.2V1316.2M1569.4 1323.8V1362.5M1658.6 1307.5V1353.1M1747.8 1245.5V1299.3M1837 1133.8V1203.1M1926.2 970.6V1074.3M2015.4 904.1V994M2104.6 892.2V982.2" stroke="#bb00bb" stroke-width="11.5" fill="none"/>
<path d="M1391 1184.5V1238.1M1480.2 1321V1355.7M1569.4 1364.3V1390M1658.6 1382V1414.1M1747.8 1400.6V1423.8M1837 1415.7V1436M1926.2 1384.6V1431.8M2015.4 1295.9V1391.6M2104.6 1164.3V1279.9" stroke="#000000" stroke-width="11.5" fill="none"/>
<polyline points="1391,1024.6 1480.2,1200 1569.4,1298 1658.6,1382 1747.8,1415.7 1837,1422 1926.2,1433.4 2015.4,1356.3 2104.6,1200" stroke="#cbd3ee" stroke-width="11.5" fill="none" stroke-linejoin="round" stroke-linecap="butt"/>
<path d="M1373 998.9h36M1373 1049.3h36M1462.2 1182.8h36M1462.2 1216.6h36M1551.4 1285h36M1551.4 1311h36M1640.6 1368h36M1640.6 1396h36M1729.8 1408h36M1729.8 1423h36M1819 1414h36M1819 1430h36M1908.2 1427h36M1908.2 1440h36M1997.4 1308.8h36M1997.4 1402.9h36M2086.6 1129h36M2086.6 1269h36" stroke="#cbd3ee" stroke-width="3.0" fill="none"/>
<polyline points="1391,1098.4 1480.2,1247 1569.4,1274 1658.6,1242.3 1747.8,1207.5 1837,1183 1926.2,1132.4 2015.4,1095.2 2104.6,1075" stroke="#f1c9c9" stroke-width="11.5" fill="none" stroke-linejoin="round" stroke-linecap="butt"/>
<path d="M1373 1080.8h36M1373 1116h36M1462.2 1237.5h36M1462.2 1256.7h36M1551.4 1258.3h36M1551.4 1289.5h36M1640.6 1221.4h36M1640.6 1263.2h36M1729.8 1183h36M1729.8 1231.5h36M1819 1146h36M1819 1219.8h36M1908.2 1094.6h36M1908.2 1170.1h36M1997.4 1049.3h36M1997.4 1141.8h36M2086.6 1029.4h36M2086.6 1120.3h36" stroke="#f1c9c9" stroke-width="3.0" fill="none"/>
<polyline points="1391,1156.8 1480.2,1340.3 1569.4,1361.1 1658.6,1377.2 1747.8,1406 1837,1430.2 1926.2,1417.3 2015.4,1355 2104.6,1236.5" stroke="#a0dca0" stroke-width="11.5" fill="none" stroke-linejoin="round" stroke-linecap="butt"/>
<path d="M1373 1135.4h36M1373 1178.1h36M1462.2 1330h36M1462.2 1351.5h36M1551.4 1356.3h36M1551.4 1366h36M1640.6 1370.8h36M1640.6 1383.6h36M1729.8 1402h36M1729.8 1410h36M1819 1426h36M1819 1434h36M1908.2 1391h36M1908.2 1444.7h36M1997.4 1300h36M1997.4 1410h36M2086.6 1156.9h36M2086.6 1316.2h36" stroke="#a0dca0" stroke-width="3.0" fill="none"/>
<polyline points="1391,1130.6 1480.2,1301.7 1569.4,1343 1658.6,1330 1747.8,1272.4 1837,1168.5 1926.2,1022.5 2015.4,949.1 2104.6,937.2" stroke="#bb00bb" stroke-width="11.5" fill="none" stroke-linejoin="round" stroke-linecap="butt"/>
<path d="M1373 1112.9h36M1373 1149.2h36M1462.2 1287.2h36M1462.2 1316.2h36M1551.4 1323.8h36M1551.4 1362.5h36M1640.6 1307.5h36M1640.6 1353.1h36M1729.8 1245.5h36M1729.8 1299.3h36M1819 1133.8h36M1819 1203.1h36M1908.2 970.6h36M1908.2 1074.3h36M1997.4 904.1h36M1997.4 994h36M2086.6 892.2h36M2086.6 982.2h36" stroke="#bb00bb" stroke-width="3.0" fill="none"/>
<polyline points="1391,1211.3 1480.2,1338.4 1569.4,1377 1658.6,1398 1747.8,1412.2 1837,1425.9 1926.2,1408.2 2015.4,1343.8 2104.6,1220" stroke="#000000" stroke-width="11.5" fill="none" stroke-linejoin="round" stroke-linecap="butt"/>
<path d="M1373 1184.5h36M1373 1238.1h36M1462.2 1321h36M1462.2 1355.7h36M1551.4 1364.3h36M1551.4 1390h36M1640.6 1382h36M1640.6 1414.1h36M1729.8 1400.6h36M1729.8 1423.8h36M1819 1415.7h36M1819 1436h36M1908.2 1384.6h36M1908.2 1431.8h36M1997.4 1295.9h36M1997.4 1391.6h36M2086.6 1164.3h36M2086.6 1279.9h36" stroke="#000000" stroke-width="3.0" fill="none"/>
</g>
<path d="M1404.3 1489.2v-23.5M1404.3 889.4v23.5M1519.1 1489.2v-23.5M1519.1 889.4v23.5M1633.9 1489.2v-23.5M1633.9 889.4v23.5M1748.7 1489.2v-23.5M1748.7 889.4v23.5M1863.5 1489.2v-23.5M1863.5 889.4v23.5M1978.3 1489.2v-23.5M1978.3 889.4v23.5M2093.1 1489.2v-23.5M2093.1 889.4v23.5M1375.6 1489.2h23.5M2121.8 1489.2h-23.5M1375.6 1364.29h23.5M2121.8 1364.29h-23.5M1375.6 1239.39h23.5M2121.8 1239.39h-23.5M1375.6 1114.48h23.5M2121.8 1114.48h-23.5M1375.6 989.57h23.5M2121.8 989.57h-23.5" stroke="#000" stroke-width="3.2" fill="none"/>
<rect x="1375.6" y="889.4" width="746.2" height="599.8" stroke="#000" stroke-width="5.6" fill="none"/>
<text x="1408.3" y="1558" font-size="60.8" text-anchor="middle" fill="#000" font-family="'DejaVu Sans', 'Liberation Sans', sans-serif" font-weight="normal">0.2</text>
<text x="1523.1" y="1558" font-size="60.8" text-anchor="middle" fill="#000" font-family="'DejaVu Sans', 'Liberation Sans', sans-serif" font-weight="normal">0.4</text>
<text x="1637.9" y="1558" font-size="60.8" text-anchor="middle" fill="#000" font-family="'DejaVu Sans', 'Liberation Sans', sans-serif" font-weight="normal">0.6</text>
<text x="1752.7" y="1558" font-size="60.8" text-anchor="middle" fill="#000" font-family="'DejaVu Sans', 'Liberation Sans', sans-serif" font-weight="normal">0.8</text>
<text x="1867.5" y="1558" font-size="60.8" text-anchor="middle" fill="#000" font-family="'DejaVu Sans', 'Liberation Sans', sans-serif" font-weight="normal">1.0</text>
<text x="1982.3" y="1558" font-size="60.8" text-anchor="middle" fill="#000" font-family="'DejaVu Sans', 'Liberation Sans', sans-serif" font-weight="normal">1.2</text>
<text x="2097.1" y="1558" font-size="60.8" text-anchor="middle" fill="#000" font-family="'DejaVu Sans', 'Liberation Sans', sans-serif" font-weight="normal">1.4</text>
<text x="1362.1" y="1511.2" font-size="60.8" text-anchor="end" fill="#000" font-family="'DejaVu Sans', 'Liberation Sans', sans-serif" font-weight="normal">0</text>
<text x="1362.1" y="1386.29" font-size="60.8" text-anchor="end" fill="#000" font-family="'DejaVu Sans', 'Liberation Sans', sans-serif" font-weight="normal">50</text>
<text x="1362.1" y="1261.39" font-size="60.8" text-anchor="end" fill="#000" font-family="'DejaVu Sans', 'Liberation Sans', sans-serif" font-weight="normal">100</text>
<text x="1362.1" y="1136.48" font-size="60.8" text-anchor="end" fill="#000" font-family="'DejaVu Sans', 'Liberation Sans', sans-serif" font-weight="normal">150</text>
<text x="1362.1" y="1011.57" font-size="60.8" text-anchor="end" fill="#000" font-family="'DejaVu Sans', 'Liberation Sans', sans-serif" font-weight="normal">200</text>
<g clip-path="url(#cp12)">
<path d="M2585.8 880V905.7M2631 961V985.4M2682.89 1076V1094.7M2742.46 1167.5V1182.2M2810.84 1245.4V1259M2889.35 1309.5V1317.7M2979.47 1344.4V1352.9M3082.93 1372V1380M3201.7 1392V1399" stroke="#cbd3ee" stroke-width="11.5" fill="none"/>
<path d="M2482.25 916.3V947.5M2512.12 1182.2V1194.1M2546.42 1291.4V1306.8M2585.8 1356V1367M2631 1381V1389M2682.89 1396V1402M2742.46 1402V1408M2810.84 1405V1412M2889.35 1402V1408M2979.47 1396V1402M3082.93 1338.2V1353.9M3201.7 1305.1V1315.3" stroke="#f1c9c9" stroke-width="11.5" fill="none"/>
<path d="M2482.25 1049.8V1053.6M2512.12 1240.2V1251.5M2546.42 1327.3V1337.5M2585.8 1371.7V1379.2M2631 1396.3V1401.7M2682.89 1412V1417M2742.46 1421V1426M2810.84 1432V1437M2889.35 1443V1447M2979.47 1449V1453M3082.93 1454V1458M3201.7 1458V1462" stroke="#a0dca0" stroke-width="11.5" fill="none"/>
<path d="M2482.25 1023.3V1053.5M2512.12 1231.7V1243.6M2546.42 1313.6V1322.2M2585.8 1344.4V1351.9M2631 1359V1367M2682.89 1368V1375M2742.46 1371V1378M2810.84 1373.5V1380M2889.35 1375V1382M2979.47 1377V1383.5M3082.93 1379V1386M3201.7 1381V1388" stroke="#bb00bb" stroke-width="11.5" fill="none"/>
<path d="M2482.25 901.9V936.2M2512.12 1129V1157M2546.42 1248.1V1265.8M2585.8 1309.5V1321.1M2631 1343.3V1351.9M2682.89 1365V1375M2742.46 1385V1393.9M2810.84 1402V1409.5M2889.35 1417V1423.5M2979.47 1427V1432.5M3082.93 1434.5V1440M3201.7 1440V1445.5" stroke="#000000" stroke-width="11.5" fill="none"/>
<polyline points="2546.42,700 2585.8,893 2631,973.2 2682.89,1085.7 2742.46,1175.4 2810.84,1252.2 2889.35,1313.6 2979.47,1348.5 3082.93,1376 3201.7,1395.6" stroke="#cbd3ee" stroke-width="11.5" fill="none" stroke-linejoin="round" stroke-linecap="butt"/>
<path d="M2567.8 880h36M2567.8 905.7h36M2613 961h36M2613 985.4h36M2664.89 1076h36M2664.89 1094.7h36M2724.46 1167.5h36M2724.46 1182.2h36M2792.84 1245.4h36M2792.84 1259h36M2871.35 1309.5h36M2871.35 1317.7h36M2961.47 1344.4h36M2961.47 1352.9h36M3064.93 1372h36M3064.93 1380h36M3183.7 1392h36M3183.7 1399h36" stroke="#cbd3ee" stroke-width="3.0" fill="none"/>
<polyline points="2482.25,932 2512.12,1188 2546.42,1299 2585.8,1361.4 2631,1385.3 2682.89,1399 2742.46,1405.1 2810.84,1408.5 2889.35,1405.1 2979.47,1399 3082.93,1346.1 3201.7,1310.2" stroke="#f1c9c9" stroke-width="11.5" fill="none" stroke-linejoin="round" stroke-linecap="butt"/>
<path d="M2464.25 916.3h36M2464.25 947.5h36M2494.12 1182.2h36M2494.12 1194.1h36M2528.42 1291.4h36M2528.42 1306.8h36M2567.8 1356h36M2567.8 1367h36M2613 1381h36M2613 1389h36M2664.89 1396h36M2664.89 1402h36M2724.46 1402h36M2724.46 1408h36M2792.84 1405h36M2792.84 1412h36M2871.35 1402h36M2871.35 1408h36M2961.47 1396h36M2961.47 1402h36M3064.93 1338.2h36M3064.93 1353.9h36M3183.7 1305.1h36M3183.7 1315.3h36" stroke="#f1c9c9" stroke-width="3.0" fill="none"/>
<polyline points="2482.25,1052 2512.12,1245.8 2546.42,1332.4 2585.8,1375.1 2631,1399 2682.89,1414.4 2742.46,1423.5 2810.84,1434.8 2889.35,1445.1 2979.47,1450.9 3082.93,1456.3 3201.7,1460.4" stroke="#a0dca0" stroke-width="11.5" fill="none" stroke-linejoin="round" stroke-linecap="butt"/>
<path d="M2464.25 1049.8h36M2464.25 1053.6h36M2494.12 1240.2h36M2494.12 1251.5h36M2528.42 1327.3h36M2528.42 1337.5h36M2567.8 1371.7h36M2567.8 1379.2h36M2613 1396.3h36M2613 1401.7h36M2664.89 1412h36M2664.89 1417h36M2724.46 1421h36M2724.46 1426h36M2792.84 1432h36M2792.84 1437h36M2871.35 1443h36M2871.35 1447h36M2961.47 1449h36M2961.47 1453h36M3064.93 1454h36M3064.93 1458h36M3183.7 1458h36M3183.7 1462h36" stroke="#a0dca0" stroke-width="3.0" fill="none"/>
<polyline points="2482.25,1038 2512.12,1237.8 2546.42,1317.7 2585.8,1347.8 2631,1363.1 2682.89,1371.7 2742.46,1374.4 2810.84,1376.8 2889.35,1378.5 2979.47,1380.2 3082.93,1382.6 3201.7,1384.7" stroke="#bb00bb" stroke-width="11.5" fill="none" stroke-linejoin="round" stroke-linecap="butt"/>
<path d="M2464.25 1023.3h36M2464.25 1053.5h36M2494.12 1231.7h36M2494.12 1243.6h36M2528.42 1313.6h36M2528.42 1322.2h36M2567.8 1344.4h36M2567.8 1351.9h36M2613 1359h36M2613 1367h36M2664.89 1368h36M2664.89 1375h36M2724.46 1371h36M2724.46 1378h36M2792.84 1373.5h36M2792.84 1380h36M2871.35 1375h36M2871.35 1382h36M2961.47 1377h36M2961.47 1383.5h36M3064.93 1379h36M3064.93 1386h36M3183.7 1381h36M3183.7 1388h36" stroke="#bb00bb" stroke-width="3.0" fill="none"/>
<polyline points="2482.25,918 2512.12,1143 2546.42,1257.3 2585.8,1315.3 2631,1347.1 2682.89,1370 2742.46,1389 2810.84,1405.8 2889.35,1420.2 2979.47,1429.7 3082.93,1437.2 3201.7,1442.7" stroke="#000000" stroke-width="11.5" fill="none" stroke-linejoin="round" stroke-linecap="butt"/>
<path d="M2464.25 901.9h36M2464.25 936.2h36M2494.12 1129h36M2494.12 1157h36M2528.42 1248.1h36M2528.42 1265.8h36M2567.8 1309.5h36M2567.8 1321.1h36M2613 1343.3h36M2613 1351.9h36M2664.89 1365h36M2664.89 1375h36M2724.46 1385h36M2724.46 1393.9h36M2792.84 1402h36M2792.84 1409.5h36M2871.35 1417h36M2871.35 1423.5h36M2961.47 1427h36M2961.47 1432.5h36M3064.93 1434.5h36M3064.93 1440h36M3183.7 1440h36M3183.7 1445.5h36" stroke="#000000" stroke-width="3.0" fill="none"/>
</g>
<path d="M2508.89 1489.2v-23.5M2508.89 889.4v23.5M2615.48 1489.2v-23.5M2615.48 889.4v23.5M2722.06 1489.2v-23.5M2722.06 889.4v23.5M2828.65 1489.2v-23.5M2828.65 889.4v23.5M2935.24 1489.2v-23.5M2935.24 889.4v23.5M3041.82 1489.2v-23.5M3041.82 889.4v23.5M3148.41 1489.2v-23.5M3148.41 889.4v23.5M2455.6 1489.2h23.5M3201.7 1489.2h-23.5M2455.6 1369.24h23.5M3201.7 1369.24h-23.5M2455.6 1249.28h23.5M3201.7 1249.28h-23.5M2455.6 1129.32h23.5M3201.7 1129.32h-23.5M2455.6 1009.36h23.5M3201.7 1009.36h-23.5M2455.6 889.4h23.5M3201.7 889.4h-23.5" stroke="#000" stroke-width="3.2" fill="none"/>
<rect x="2455.6" y="889.4" width="746.1" height="599.8" stroke="#000" stroke-width="5.6" fill="none"/>
<text x="2512.89" y="1558" font-size="60.8" text-anchor="middle" fill="#000" font-family="'DejaVu Sans', 'Liberation Sans', sans-serif" font-weight="normal">0.2</text>
<text x="2619.48" y="1558" font-size="60.8" text-anchor="middle" fill="#000" font-family="'DejaVu Sans', 'Liberation Sans', sans-serif" font-weight="normal">0.4</text>
<text x="2726.06" y="1558" font-size="60.8" text-anchor="middle" fill="#000" font-family="'DejaVu Sans', 'Liberation Sans', sans-serif" font-weight="normal">0.6</text>
<text x="2832.65" y="1558" font-size="60.8" text-anchor="middle" fill="#000" font-family="'DejaVu Sans', 'Liberation Sans', sans-serif" font-weight="normal">0.8</text>
<text x="2939.24" y="1558" font-size="60.8" text-anchor="middle" fill="#000" font-family="'DejaVu Sans', 'Liberation Sans', sans-serif" font-weight="normal">1.0</text>
<text x="3045.82" y="1558" font-size="60.8" text-anchor="middle" fill="#000" font-family="'DejaVu Sans', 'Liberation Sans', sans-serif" font-weight="normal">1.2</text>
<text x="3152.41" y="1558" font-size="60.8" text-anchor="middle" fill="#000" font-family="'DejaVu Sans', 'Liberation Sans', sans-serif" font-weight="normal">1.4</text>
<text x="2442.1" y="1511.2" font-size="60.8" text-anchor="end" fill="#000" font-family="'DejaVu Sans', 'Liberation Sans', sans-serif" font-weight="normal">0</text>
<text x="2442.1" y="1391.24" font-size="60.8" text-anchor="end" fill="#000" font-family="'DejaVu Sans', 'Liberation Sans', sans-serif" font-weight="normal">20</text>
<text x="2442.1" y="1271.28" font-size="60.8" text-anchor="end" fill="#000" font-family="'DejaVu Sans', 'Liberation Sans', sans-serif" font-weight="normal">40</text>
<text x="2442.1" y="1151.32" font-size="60.8" text-anchor="end" fill="#000" font-family="'DejaVu Sans', 'Liberation Sans', sans-serif" font-weight="normal">60</text>
<text x="2442.1" y="1031.36" font-size="60.8" text-anchor="end" fill="#000" font-family="'DejaVu Sans', 'Liberation Sans', sans-serif" font-weight="normal">80</text>
<text x="2442.1" y="911.4" font-size="60.8" text-anchor="end" fill="#000" font-family="'DejaVu Sans', 'Liberation Sans', sans-serif" font-weight="normal">100</text>
<g clip-path="url(#cp13)">
<path d="M3496.4 1335.1H4243.2" stroke="#000" stroke-width="5.8" stroke-dasharray="35.9 35.9" fill="none"/>
<path d="M3496.4 1425.8V1460.6M3589.75 1433.3V1481.7M3683.1 1435V1481.7M3776.45 1436V1490M3869.8 1431.6V1470.8M3963.15 1436.7V1473.5M4056.5 1387.2V1442.8M4149.85 1318.3V1383.8M4243.2 1264.3V1315.5" stroke="#cbd3ee" stroke-width="11.5" fill="none"/>
<path d="M3496.4 1305V1329M3589.75 1277V1303M3683.1 1243.2V1274.6M3776.45 1214.2V1234.6M3869.8 1155.9V1193.5M3963.15 1112V1145.1M4056.5 1051.9V1084M4149.85 949.1V982.2M4243.2 894.5V921.8" stroke="#f1c9c9" stroke-width="11.5" fill="none"/>
<path d="M3496.4 1321V1330.6M3589.75 1319V1329M3683.1 1316V1325.4M3776.45 1315V1325M3869.8 1312V1323M3963.15 1305.3V1322.3M4056.5 1268V1288M4149.85 1194.4V1221M4243.2 1123.7V1140.3" stroke="#a0dca0" stroke-width="11.5" fill="none"/>
<path d="M3496.4 1289.2V1346.2M3589.75 1268.8V1340.4M3683.1 1278.7V1338.7M3776.45 1275.6V1328.2M3869.8 1269.5V1320.6M3963.15 1260.9V1315.5M4056.5 1221.7V1289.2M4149.85 1146.7V1211.4M4243.2 1082.4V1145.1" stroke="#bb00bb" stroke-width="11.5" fill="none"/>
<path d="M3496.4 1324.1V1349.7M3589.75 1319.6V1348M3683.1 1316.2V1347.3M3776.45 1317.2V1350.7M3869.8 1308.7V1336.5M3963.15 1310V1343M4056.5 1274.6V1306.3M4149.85 1196.1V1230.2M4243.2 1136.2V1166.8" stroke="#000000" stroke-width="11.5" fill="none"/>
<polyline points="3496.4,1443.2 3589.75,1457.5 3683.1,1458.4 3776.45,1463 3869.8,1451.2 3963.15,1455.1 4056.5,1415 4149.85,1351 4243.2,1289.9" stroke="#cbd3ee" stroke-width="11.5" fill="none" stroke-linejoin="round" stroke-linecap="butt"/>
<path d="M3478.4 1425.8h36M3478.4 1460.6h36M3571.75 1433.3h36M3571.75 1481.7h36M3665.1 1435h36M3665.1 1481.7h36M3758.45 1436h36M3758.45 1490h36M3851.8 1431.6h36M3851.8 1470.8h36M3945.15 1436.7h36M3945.15 1473.5h36M4038.5 1387.2h36M4038.5 1442.8h36M4131.85 1318.3h36M4131.85 1383.8h36M4225.2 1264.3h36M4225.2 1315.5h36" stroke="#cbd3ee" stroke-width="3.0" fill="none"/>
<polyline points="3496.4,1317.2 3589.75,1289.9 3683.1,1258.9 3776.45,1224.4 3869.8,1174.7 3963.15,1128.5 4056.5,1068 4149.85,965.6 4243.2,908.2" stroke="#f1c9c9" stroke-width="11.5" fill="none" stroke-linejoin="round" stroke-linecap="butt"/>
<path d="M3478.4 1305h36M3478.4 1329h36M3571.75 1277h36M3571.75 1303h36M3665.1 1243.2h36M3665.1 1274.6h36M3758.45 1214.2h36M3758.45 1234.6h36M3851.8 1155.9h36M3851.8 1193.5h36M3945.15 1112h36M3945.15 1145.1h36M4038.5 1051.9h36M4038.5 1084h36M4131.85 949.1h36M4131.85 982.2h36M4225.2 894.5h36M4225.2 921.8h36" stroke="#f1c9c9" stroke-width="3.0" fill="none"/>
<polyline points="3496.4,1325.8 3589.75,1324.1 3683.1,1320.7 3776.45,1320 3869.8,1317.5 3963.15,1313.8 4056.5,1278 4149.85,1207.7 4243.2,1132" stroke="#a0dca0" stroke-width="11.5" fill="none" stroke-linejoin="round" stroke-linecap="butt"/>
<path d="M3478.4 1321h36M3478.4 1330.6h36M3571.75 1319h36M3571.75 1329h36M3665.1 1316h36M3665.1 1325.4h36M3758.45 1315h36M3758.45 1325h36M3851.8 1312h36M3851.8 1323h36M3945.15 1305.3h36M3945.15 1322.3h36M4038.5 1268h36M4038.5 1288h36M4131.85 1194.4h36M4131.85 1221h36M4225.2 1123.7h36M4225.2 1140.3h36" stroke="#a0dca0" stroke-width="3.0" fill="none"/>
<polyline points="3496.4,1317.7 3589.75,1304.6 3683.1,1308.7 3776.45,1301.9 3869.8,1295 3963.15,1288.2 4056.5,1255.5 4149.85,1179 4243.2,1113.8" stroke="#bb00bb" stroke-width="11.5" fill="none" stroke-linejoin="round" stroke-linecap="butt"/>
<path d="M3478.4 1289.2h36M3478.4 1346.2h36M3571.75 1268.8h36M3571.75 1340.4h36M3665.1 1278.7h36M3665.1 1338.7h36M3758.45 1275.6h36M3758.45 1328.2h36M3851.8 1269.5h36M3851.8 1320.6h36M3945.15 1260.9h36M3945.15 1315.5h36M4038.5 1221.7h36M4038.5 1289.2h36M4131.85 1146.7h36M4131.85 1211.4h36M4225.2 1082.4h36M4225.2 1145.1h36" stroke="#bb00bb" stroke-width="3.0" fill="none"/>
<polyline points="3496.4,1336.9 3589.75,1333.8 3683.1,1331.8 3776.45,1334 3869.8,1322.6 3963.15,1327 4056.5,1290.5 4149.85,1213.2 4243.2,1151.5" stroke="#000000" stroke-width="11.5" fill="none" stroke-linejoin="round" stroke-linecap="butt"/>
<path d="M3478.4 1324.1h36M3478.4 1349.7h36M3571.75 1319.6h36M3571.75 1348h36M3665.1 1316.2h36M3665.1 1347.3h36M3758.45 1317.2h36M3758.45 1350.7h36M3851.8 1308.7h36M3851.8 1336.5h36M3945.15 1310h36M3945.15 1343h36M4038.5 1274.6h36M4038.5 1306.3h36M4131.85 1196.1h36M4131.85 1230.2h36M4225.2 1136.2h36M4225.2 1166.8h36" stroke="#000000" stroke-width="3.0" fill="none"/>
</g>
<path d="M3659.2 1489.2v-23.5M3659.2 889.4v23.5M3869.6 1489.2v-23.5M3869.6 889.4v23.5M4080.2 1489.2v-23.5M4080.2 889.4v23.5M3496.4 1443.28h23.5M4243.2 1443.28h-23.5M3496.4 1334.97h23.5M4243.2 1334.97h-23.5M3496.4 1226.67h23.5M4243.2 1226.67h-23.5M3496.4 1118.36h23.5M4243.2 1118.36h-23.5M3496.4 1010.05h23.5M4243.2 1010.05h-23.5M3496.4 901.75h23.5M4243.2 901.75h-23.5" stroke="#000" stroke-width="3.2" fill="none"/>
<rect x="3496.4" y="889.4" width="746.8" height="599.8" stroke="#000" stroke-width="5.6" fill="none"/>
<text x="3663.2" y="1558" font-size="60.8" text-anchor="middle" fill="#000" font-family="'DejaVu Sans', 'Liberation Sans', sans-serif" font-weight="normal">0.5</text>
<text x="4084.2" y="1558" font-size="60.8" text-anchor="middle" fill="#000" font-family="'DejaVu Sans', 'Liberation Sans', sans-serif" font-weight="normal">1.5</text>
<text x="3482.9" y="1465.28" font-size="60.8" text-anchor="end" fill="#000" font-family="'DejaVu Sans', 'Liberation Sans', sans-serif" font-weight="normal">−5</text>
<text x="3482.9" y="1356.97" font-size="60.8" text-anchor="end" fill="#000" font-family="'DejaVu Sans', 'Liberation Sans', sans-serif" font-weight="normal">0</text>
<text x="3482.9" y="1248.67" font-size="60.8" text-anchor="end" fill="#000" font-family="'DejaVu Sans', 'Liberation Sans', sans-serif" font-weight="normal">5</text>
<text x="3482.9" y="1140.36" font-size="60.8" text-anchor="end" fill="#000" font-family="'DejaVu Sans', 'Liberation Sans', sans-serif" font-weight="normal">10</text>
<text x="3482.9" y="1032.05" font-size="60.8" text-anchor="end" fill="#000" font-family="'DejaVu Sans', 'Liberation Sans', sans-serif" font-weight="normal">15</text>
<text x="3482.9" y="923.75" font-size="60.8" text-anchor="end" fill="#000" font-family="'DejaVu Sans', 'Liberation Sans', sans-serif" font-weight="normal">20</text>
<text x="50.9" y="169.8" font-size="60.8" text-anchor="end" fill="#000" font-family="'DejaVu Sans', 'Liberation Sans', sans-serif" font-weight="normal" transform="rotate(-90 50.9 169.8)">Guinea pig</text>
<text x="50.5" y="950.5" font-size="60.8" text-anchor="end" fill="#000" font-family="'DejaVu Sans', 'Liberation Sans', sans-serif" font-weight="normal" transform="rotate(-90 50.5 950.5)">Cat</text>
<text x="120.8" y="411.9" font-size="60.8" text-anchor="middle" fill="#000" font-family="'DejaVu Sans', 'Liberation Sans', sans-serif" font-weight="normal" transform="rotate(-90 120.8 411.9)">Mean error (<tspan font-family="'Liberation Serif', serif">μ</tspan>s)</text>
<text x="1197.4" y="411.9" font-size="60.8" text-anchor="middle" fill="#000" font-family="'DejaVu Sans', 'Liberation Sans', sans-serif" font-weight="normal" transform="rotate(-90 1197.4 411.9)">Mean error (<tspan font-family="'Liberation Serif', serif">μ</tspan>s)</text>
<text x="2311.6" y="411.9" font-size="60.8" text-anchor="middle" fill="#000" font-family="'DejaVu Sans', 'Liberation Sans', sans-serif" font-weight="normal" transform="rotate(-90 2311.6 411.9)">Mean error (<tspan font-family="'Liberation Serif', serif">μ</tspan>s)</text>
<text x="3354.2" y="411.9" font-size="60.8" text-anchor="middle" fill="#000" font-family="'DejaVu Sans', 'Liberation Sans', sans-serif" font-weight="normal" transform="rotate(-90 3354.2 411.9)">Mean error (<tspan font-family="'Liberation Serif', serif">μ</tspan>s)</text>
<text x="119.5" y="1191.8" font-size="60.8" text-anchor="middle" fill="#000" font-family="'DejaVu Sans', 'Liberation Sans', sans-serif" font-weight="normal" transform="rotate(-90 119.5 1191.8)">Mean error (<tspan font-family="'Liberation Serif', serif">μ</tspan>s)</text>
<text x="1195" y="1191.8" font-size="60.8" text-anchor="middle" fill="#000" font-family="'DejaVu Sans', 'Liberation Sans', sans-serif" font-weight="normal" transform="rotate(-90 1195 1191.8)">Mean error (<tspan font-family="'Liberation Serif', serif">μ</tspan>s)</text>
<text x="2277.3" y="1191.8" font-size="60.8" text-anchor="middle" fill="#000" font-family="'DejaVu Sans', 'Liberation Sans', sans-serif" font-weight="normal" transform="rotate(-90 2277.3 1191.8)">Mean error (<tspan font-family="'Liberation Serif', serif">μ</tspan>s)</text>
<text x="3358.2" y="1186.6" font-size="60.8" text-anchor="middle" fill="#000" font-family="'DejaVu Sans', 'Liberation Sans', sans-serif" font-weight="normal" transform="rotate(-90 3358.2 1186.6)">Bias to center (%)</text>
<text x="638.1" y="1635.5" font-size="60.8" text-anchor="middle" fill="#000" font-family="'DejaVu Sans', 'Liberation Sans', sans-serif" font-weight="normal">Number of cells</text>
<text x="1753.7" y="1635.5" font-size="60.8" text-anchor="middle" fill="#000" font-family="'DejaVu Sans', 'Liberation Sans', sans-serif" font-weight="normal">Frequency (kHz)</text>
<text x="2831.65" y="1635.5" font-size="60.8" text-anchor="middle" fill="#000" font-family="'DejaVu Sans', 'Liberation Sans', sans-serif" font-weight="normal">Cutoff frequency (kHz)</text>
<text x="3869.1" y="1635.5" font-size="60.8" text-anchor="middle" fill="#000" font-family="'DejaVu Sans', 'Liberation Sans', sans-serif" font-weight="normal">Noise colour <tspan font-family="'DejaVu Serif', serif" font-style="italic">α</tspan></text>
<text transform="translate(9.36 77.4) scale(1.021 1)" x="0" y="0" font-size="104" font-family="'Liberation Sans', Arial, sans-serif" font-weight="bold" fill="#000">A</text>
<text transform="translate(1141.2 77.4) scale(0.978 1)" x="0" y="0" font-size="104" font-family="'Liberation Sans', Arial, sans-serif" font-weight="bold" fill="#000">B</text>
<text transform="translate(2246.0 77.4) scale(0.919 1)" x="0" y="0" font-size="104" font-family="'Liberation Sans', Arial, sans-serif" font-weight="bold" fill="#000">C</text>
<text transform="translate(3296.4 77.4) scale(0.937 1)" x="0" y="0" font-size="104" font-family="'Liberation Sans', Arial, sans-serif" font-weight="bold" fill="#000">D</text>
<circle cx="3495.0" cy="756.3" r="24.1" fill="#fff" stroke="#000" stroke-width="2.6"/>
<circle cx="3868.6" cy="756.3" r="24.1" fill="#ff58cc" stroke="#000" stroke-width="2.6"/>
<circle cx="4241.8" cy="753.6" r="24.1" fill="#732d0c" stroke="#000" stroke-width="2.6"/>
<circle cx="3496.5" cy="1541.4" r="24.1" fill="#fff" stroke="#000" stroke-width="2.6"/>
<circle cx="3870.0" cy="1541.4" r="24.1" fill="#ff58cc" stroke="#000" stroke-width="2.6"/>
<circle cx="4243.0" cy="1538.7" r="24.1" fill="#732d0c" stroke="#000" stroke-width="2.6"/>
<text x="563.4" y="348.5" font-size="57.5" stroke="#bb00bb" stroke-width="0.5" fill="#bb00bb" font-family="'Liberation Sans', Arial, sans-serif" textLength="416.3" lengthAdjust="spacingAndGlyphs">Ridge regression</text>
<text x="300" y="668.4" font-size="57.5" stroke="#000" stroke-width="0.5" fill="#000" font-family="'Liberation Sans', Arial, sans-serif" textLength="706.8" lengthAdjust="spacingAndGlyphs">Nearest neighbor regression</text>
</svg></body></html>
